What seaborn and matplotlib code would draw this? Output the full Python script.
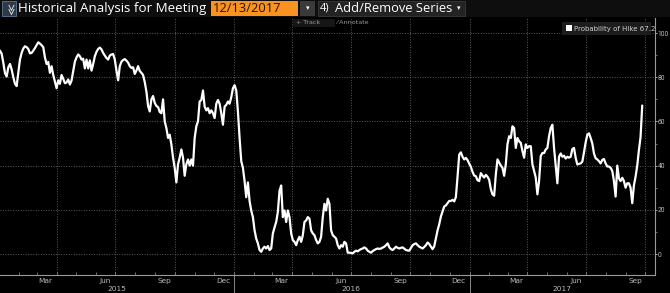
import numpy as np
import pandas as pd
import matplotlib
matplotlib.use("Agg")
import matplotlib.pyplot as plt
import matplotlib.dates as mdates
from matplotlib.patches import Rectangle
from matplotlib.ticker import MultipleLocator, FixedLocator
import matplotlib.transforms as mtransforms
import seaborn as sns

# ---------------- data ----------------
start_date = "2015-01-03"
step = "62h"

seg1 = [92, 90.6, 86.5, 81.8, 80.3, 84.5, 86, 83.5, 80, 77, 76, 82, 88, 91, 93, 94, 93.6, 92.8, 90.8, 91,
        92, 93.2, 94.5, 95.8, 95.2, 94.5, 93.6, 89, 86, 86.9, 82, 85, 81, 78, 75, 78.6, 77, 81, 79.3, 77.3,
        77.6, 79, 76.7, 78.5, 82.7, 87, 89, 90.3, 89.5, 88, 88.4, 84, 88, 84, 87.6, 83, 86, 89.5, 91.5, 92.8,
        93.4, 92.6, 91, 89.8, 88.7, 88, 89.8, 90.3, 90.5, 88, 83, 78.6, 85, 87, 87.8, 88.2, 87.5, 86.6, 85, 84.2,
        84.5, 81.5, 83, 85, 82.8, 82, 81, 77.8, 73.5, 67, 64.5, 70, 71.5, 68.4, 67, 66.5, 64.3, 63.7, 70]
seg2 = [60, 57, 52.5, 54, 49.6, 43.6, 39, 32.4, 40.6, 43.6, 47.3, 43.6, 35.4, 40.6, 42.8, 40, 42.8, 40, 52.5, 57.8,
        60, 69, 69.7, 74, 66.7, 65, 66, 63.7, 65, 63.7, 61.5, 68, 69.7, 68, 63.7, 58.5, 66.7, 67.5, 69, 68,
        71, 75, 76.4, 74, 64.5, 52.5, 42, 39, 33, 25.7, 32.4, 24, 19.7, 16.7, 10.7, 7, 4.8, 1.8, 1, 2.5,
        3.3, 2.5, 3.6, 1.8, 2.5, 9.3, 12, 14.5, 19, 28.6, 31, 16.7, 19.7, 14.5, 19.7, 16.7, 9.3, 6.3, 5.5, 4,
        6.3, 7.8, 5.5, 8.5, 14.5, 15.2, 16.7, 16, 10.7, 9.3, 8.5, 6.3, 4.8, 5.5, 7.8, 16.7, 22.7, 19.7, 25]
seg3 = [22.7, 10.7, 8.5, 7.8, 7, 4, 2.5, 4, 3.3, 5.5, 4.8, 0.6, 0.6, 0.5, 0.3, 1, 1.5, 1.2, 1.8, 2.2,
        2.5, 3, 2.5, 1.5, 1, 0.6, 1.3, 1.8, 2.2, 2.5, 2.3, 2.5, 2.9, 3.3, 4, 4.8, 3, 2.2, 1.8, 2.5,
        3.3, 2.8, 2.5, 2.8, 3, 2.4, 1.8, 1.6, 1.5, 2.8, 4, 4.5, 4.8, 4, 3.3, 2.9, 2.5, 3.2, 4, 5.2,
        4.5, 3.3, 2.2, 3.5, 7, 10.7, 13.5, 17, 19.3, 21.5, 22, 23, 24, 24, 24.5, 23.8, 25.8, 35, 45, 46,
        44, 42.8, 43.5, 42.5, 40.9, 39.5, 37.2, 35.5, 35.2, 33.4, 33, 36.6, 35.5, 34.6, 35.8, 35, 33.6, 29.4, 27]
seg4 = [26.4, 36, 42.8, 41.4, 40, 39, 35.4, 40.6, 49.6, 53.3, 52.5, 57.8, 57, 48, 52.5, 51, 50.3, 46.6, 43.6, 49.6,
        48, 48.8, 48.8, 40.6, 37.6, 34.6, 27, 33, 44.3, 45.7, 45.7, 47.3, 48, 53.3, 57, 58.5, 48, 40, 32, 44,
        45.5, 44, 44.5, 43.2, 44, 43.6, 44, 47.5, 48, 43.5, 40.5, 40.8, 41, 41.8, 46, 50.5, 54, 54.6, 52.5, 50,
        45.5, 43.3, 42.8, 42, 41, 42.6, 43, 41, 39.6, 39.6, 39, 37.6, 33, 26, 40, 34.2, 33, 34.5, 33, 30,
        32, 32, 30, 23, 31, 35, 40, 47, 53, 67.2]

values = seg1 + seg2 + seg3 + seg4
dates = pd.date_range(start_date, periods=len(values), freq=step)
df = pd.DataFrame({"date": dates, "prob": values})

month_labels = ["Mar", "Jun", "Sep", "Dec"]
year_labels = ["2015", "2016", "2017"]
y_ticks = [0, 20, 40, 60, 80, 100]
legend_label = "Probability of Hike"
last_value = 67.2
title_text = "Historical Analysis for Meeting"
meeting_date = "12/13/2017"
series_btn = "Add/Remove Series"

# ---------------- figure ----------------
W, H = 670, 293
sns.set_theme(style="dark")
plt.rcParams["font.family"] = ["DejaVu Sans"]
fig = plt.figure(figsize=(W / 100, H / 100), dpi=100, facecolor="black")

def fx(x):
    return x / W

def fy(y):
    return 1 - y / H

ax = fig.add_axes([0, fy(275), fx(655), (275 - 18) / H])
ax.set_facecolor("black")

sns.lineplot(data=df, x="date", y="prob", ax=ax, color="white", lw=1.6, legend=False)

ax.set_xlim(pd.Timestamp("2015-01-03"), pd.Timestamp("2017-10-16"))
ax.set_ylim(-9.5, 106.8)
ax.set_xlabel("")
ax.set_ylabel("")

grid_kw = dict(color="#5c5c5c", lw=0.7, linestyle=(0, (1, 1.6)))
for v in y_ticks:
    ax.axhline(v, zorder=0, **grid_kw)
for q in pd.date_range("2015-04-01", "2017-10-01", freq="QS"):
    ax.axvline(q, zorder=0, **grid_kw)

for s in ["top", "left"]:
    ax.spines[s].set_visible(False)
for s in ["right", "bottom"]:
    ax.spines[s].set_visible(True)
    ax.spines[s].set_color("#9a9a9a")
    ax.spines[s].set_linewidth(0.8)

ax.yaxis.tick_right()
ax.yaxis.set_major_locator(FixedLocator(y_ticks))
ax.yaxis.set_minor_locator(MultipleLocator(10))
ax.set_yticklabels([str(v) for v in y_ticks], family="Roboto")
ax.tick_params(axis="y", which="major", right=True, left=False, length=1.6, width=0.6,
               colors="#bbbbbb", labelsize=4.9, pad=0.3, direction="out")
ax.tick_params(axis="y", which="minor", right=True, left=False, length=1.6, width=0.5,
               colors="#999999", direction="out")

mid_months = [pd.Timestamp(f"{yr}-{m:02d}-15") for yr in (2015, 2016, 2017) for m in (3, 6, 9, 12)]
mid_months = [d for d in mid_months if d <= pd.Timestamp("2017-10-16")]
ax.xaxis.set_major_locator(FixedLocator(mdates.date2num(mid_months)))
ax.set_xticklabels([month_labels[i % 4] for i in range(len(mid_months))])
ax.xaxis.set_minor_locator(mdates.MonthLocator())
ax.tick_params(axis="x", which="major", length=0, labelsize=5.3, colors="#bbbbbb", pad=2.2)
ax.tick_params(axis="x", which="minor", bottom=True, length=2, width=0.5, colors="#999999", direction="in")

trans = mtransforms.blended_transform_factory(ax.transData, ax.transAxes)
for yr in ["2016-01-01", "2017-01-01"]:
    ax.plot([pd.Timestamp(yr)] * 2, [0, -0.075], transform=trans, color="#888888", lw=0.7, clip_on=False)
year_centres = [pd.Timestamp("2015-01-03") + (pd.Timestamp("2016-01-01") - pd.Timestamp("2015-01-03")) / 2,
                pd.Timestamp("2016-07-01"),
                pd.Timestamp("2017-01-01") + (pd.Timestamp("2017-10-16") - pd.Timestamp("2017-01-01")) / 2]
for lab, c in zip(year_labels, year_centres):
    ax.text(c, -0.055, lab, transform=trans, ha="center", va="center", fontsize=5.3, color="#bbbbbb")

# legend box
fig.add_artist(Rectangle((fx(562), fy(35)), 89 / W, 13 / H, transform=fig.transFigure,
                         facecolor="#1c1c1c", edgecolor="none", zorder=5))
fig.add_artist(Rectangle((fx(566), fy(31)), 6 / W, 6 / H, transform=fig.transFigure,
                         facecolor="white", edgecolor="none", zorder=6))
fig.text(fx(574), fy(28.5), f"{legend_label} {last_value}", fontsize=5, color="#d0d0d0",
         ha="left", va="center", zorder=6)

# ---------------- header ----------------
fam = ["Open Sans", "DejaVu Sans"]
fig.add_artist(Rectangle((0, fy(17)), 1, 17 / H, transform=fig.transFigure,
                         facecolor="#0e0e0e", edgecolor="none", zorder=3))
fig.add_artist(Rectangle((fx(2), fy(16)), 14 / W, 15 / H, transform=fig.transFigure,
                         facecolor="#2e3a48", edgecolor="#5a7896", lw=0.6, zorder=4))
fig.text(fx(9), fy(8.5), "\u226b", rotation=-90, fontsize=8, color="#d8d8d8",
         ha="center", va="center", zorder=5)
fig.text(fx(18), fy(8.5), title_text, fontsize=9.6, color="white", ha="left", va="center",
         family=fam, zorder=5)
fig.add_artist(Rectangle((fx(211), fy(16)), 87 / W, 15 / H, transform=fig.transFigure,
                         facecolor="#f7931e", edgecolor="none", zorder=4))
fig.text(fx(213), fy(8.5), meeting_date, fontsize=9.3, color="#241400", ha="left", va="center",
         family=fam, zorder=5)
fig.add_artist(Rectangle((fx(300), fy(16)), 15 / W, 15 / H, transform=fig.transFigure,
                         facecolor="#3a3a3a", edgecolor="none", zorder=4))
fig.text(fx(307.5), fy(8.5), "\u25be", fontsize=5, color="white", ha="center", va="center",
         family=["DejaVu Sans"], zorder=5)
fig.add_artist(Rectangle((fx(318), fy(16)), 147 / W, 15 / H, transform=fig.transFigure,
                         facecolor="#232323", edgecolor="#3a3a3a", lw=0.6, zorder=4))
fig.text(fx(320), fy(8.5), "4)", fontsize=8, color="white", ha="left", va="center",
         family=fam, zorder=5)
fig.text(fx(335), fy(8.5), series_btn, fontsize=9.3, color="white", ha="left", va="center",
         family=fam, zorder=5)
fig.text(fx(459), fy(8.5), "\u25be", fontsize=5, color="white", ha="center", va="center",
         family=["DejaVu Sans"], zorder=5)
fig.add_artist(Rectangle((fx(293), fy(27)), 42 / W, 8 / H, transform=fig.transFigure,
                         facecolor="#161616", edgecolor="none", zorder=4))
fig.text(fx(296), fy(23), "+ Track", fontsize=4.6, color="#9a9a9a", ha="left", va="center", zorder=5)
fig.text(fx(336), fy(23), "\u2044 Annotate", fontsize=4.6, color="#9a9a9a", ha="left", va="center", zorder=5)

fig.savefig("out.png", dpi=100, facecolor="black")
